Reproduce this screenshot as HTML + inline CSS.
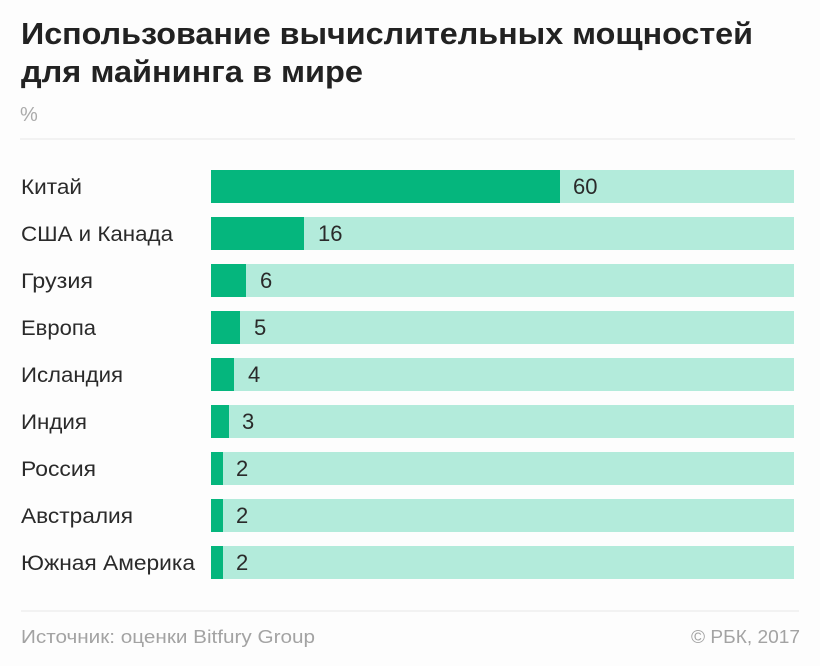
<!DOCTYPE html>
<html>
<head>
<meta charset="utf-8">
<style>
html,body{margin:0;padding:0;background:#fdfdfd;}
svg{display:block;}
text{font-family:"Liberation Sans","Noto Sans CJK SC",sans-serif;}
</style>
</head>
<body>
<svg width="820" height="666" viewBox="0 0 820 666" xmlns="http://www.w3.org/2000/svg">
<rect width="820" height="666" fill="#fdfdfd"/>
<text x="21" y="44" font-size="31" font-weight="bold" fill="#222" textLength="732" lengthAdjust="spacingAndGlyphs">Использование вычислительных мощностей</text>
<text x="21" y="82" font-size="31" font-weight="bold" fill="#222" textLength="342" lengthAdjust="spacingAndGlyphs">для майнинга в мире</text>
<text x="20" y="121" font-size="20" fill="#aaa">%</text>
<rect x="20" y="138.5" width="775" height="1" fill="#e8e8e8"/>

<g font-size="21" fill="#2a2a2a">
<!-- rows: top = 170 + 47*i -->
<rect x="211" y="170" width="583" height="33" fill="#b3ebdb"/>
<rect x="211" y="170" width="349" height="33" fill="#05b67d"/>
<text x="21" y="194" textLength="61" lengthAdjust="spacingAndGlyphs">Китай</text>
<text x="573" y="194" font-size="22">60</text>

<rect x="211" y="217" width="583" height="33" fill="#b3ebdb"/>
<rect x="211" y="217" width="93" height="33" fill="#05b67d"/>
<text x="21" y="241" textLength="152" lengthAdjust="spacingAndGlyphs">США и Канада</text>
<text x="318" y="241" font-size="22">16</text>

<rect x="211" y="264" width="583" height="33" fill="#b3ebdb"/>
<rect x="211" y="264" width="35" height="33" fill="#05b67d"/>
<text x="21" y="288" textLength="72" lengthAdjust="spacingAndGlyphs">Грузия</text>
<text x="260" y="288" font-size="22">6</text>

<rect x="211" y="311" width="583" height="33" fill="#b3ebdb"/>
<rect x="211" y="311" width="29" height="33" fill="#05b67d"/>
<text x="21" y="335" textLength="75" lengthAdjust="spacingAndGlyphs">Европа</text>
<text x="254" y="335" font-size="22">5</text>

<rect x="211" y="358" width="583" height="33" fill="#b3ebdb"/>
<rect x="211" y="358" width="23" height="33" fill="#05b67d"/>
<text x="21" y="382" textLength="102" lengthAdjust="spacingAndGlyphs">Исландия</text>
<text x="248" y="382" font-size="22">4</text>

<rect x="211" y="405" width="583" height="33" fill="#b3ebdb"/>
<rect x="211" y="405" width="18" height="33" fill="#05b67d"/>
<text x="21" y="429" textLength="66" lengthAdjust="spacingAndGlyphs">Индия</text>
<text x="242" y="429" font-size="22">3</text>

<rect x="211" y="452" width="583" height="33" fill="#b3ebdb"/>
<rect x="211" y="452" width="12" height="33" fill="#05b67d"/>
<text x="21" y="476" textLength="75" lengthAdjust="spacingAndGlyphs">Россия</text>
<text x="236" y="476" font-size="22">2</text>

<rect x="211" y="499" width="583" height="33" fill="#b3ebdb"/>
<rect x="211" y="499" width="12" height="33" fill="#05b67d"/>
<text x="21" y="523" textLength="112" lengthAdjust="spacingAndGlyphs">Австралия</text>
<text x="236" y="523" font-size="22">2</text>

<rect x="211" y="546" width="583" height="33" fill="#b3ebdb"/>
<rect x="211" y="546" width="12" height="33" fill="#05b67d"/>
<text x="21" y="570" textLength="174" lengthAdjust="spacingAndGlyphs">Южная Америка</text>
<text x="236" y="570" font-size="22">2</text>
</g>

<rect x="21" y="610.5" width="778" height="1" fill="#e8e8e8"/>
<text x="21" y="643" font-size="18" fill="#a3a3a3" textLength="294" lengthAdjust="spacingAndGlyphs">Источник: оценки Bitfury Group</text>
<text x="691" y="643" font-size="18" fill="#a3a3a3" textLength="109" lengthAdjust="spacingAndGlyphs">© РБК, 2017</text>
</svg>
</body>
</html>
